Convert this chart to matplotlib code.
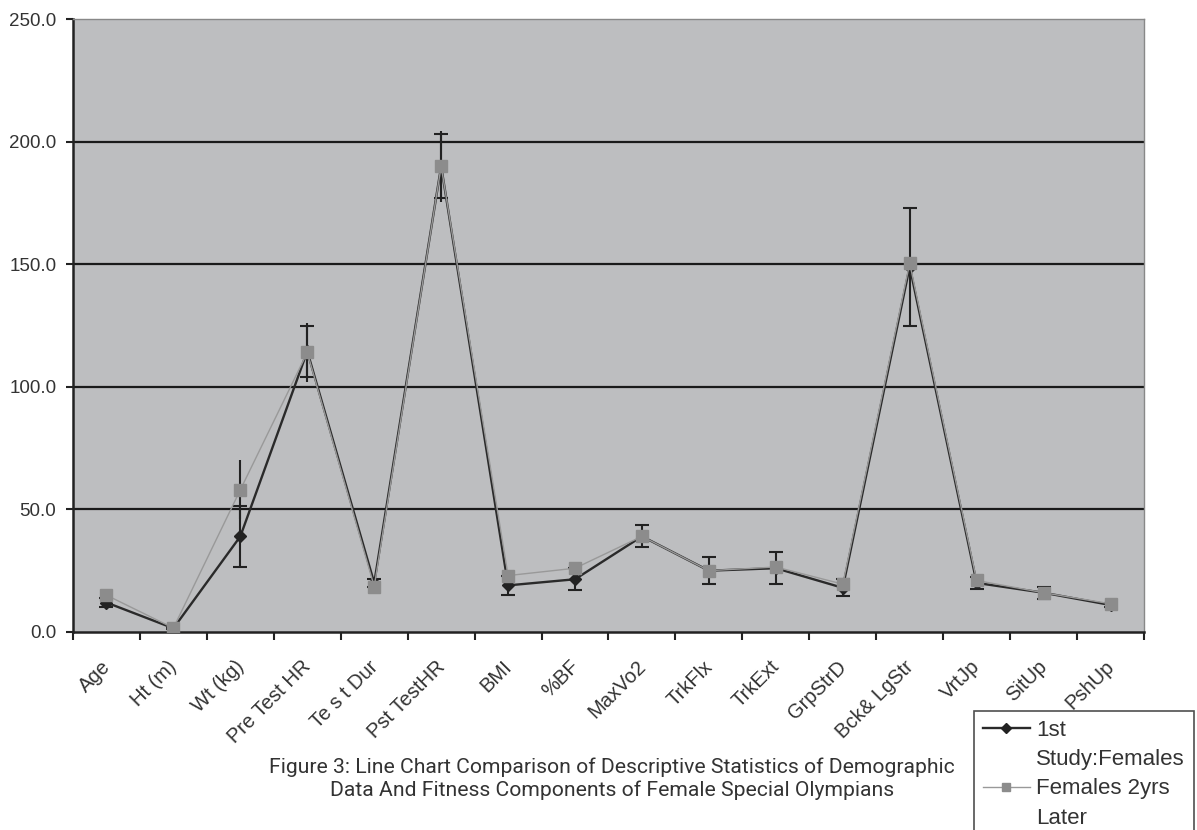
import matplotlib.pyplot as plt
import matplotlib.transforms as mtransforms
from matplotlib.lines import Line2D
import numpy as np

plt.rcParams['font.family'] = ['Liberation Sans', 'DejaVu Sans']

categories = ["Age", "Ht (m)", "Wt (kg)", "Pre Test HR", "Te s t Dur", "Pst TestHR",
              "BMI", "%BF", "MaxVo2", "TrkFlx", "TrkExt", "GrpStrD", "Bck& LgStr",
              "VrtJp", "SitUp", "PshUp"]

# 1st study: females (mean, sd)
first_mean = [12.0, 1.5, 39.0, 114.5, 20.0, 190.0, 19.0, 21.5, 39.0, 25.0, 26.0, 18.0,
              149.0, 20.0, 16.0, 11.0]
first_err = [2.0, 0.1, 12.4, 10.5, 1.5, 13.0, 4.0, 4.5, 4.5, 5.5, 6.5, 3.5,
             24.0, 2.5, 2.5, 1.0]

# females 2 years later
later_mean = [15.0, 1.6, 58.0, 114.0, 18.5, 190.0, 23.0, 26.0, 39.0, 25.0, 26.5, 19.5,
              150.5, 21.0, 16.0, 11.5]
later_err = [0.0, 0.0, 12.0, 12.0, 0.0, 14.5, 0.0, 0.0, 0.0, 0.0, 0.0, 0.0,
             0.0, 0.0, 0.0, 0.0]

yticks = [0, 50, 100, 150, 200, 250]

title_text = ("Figure 3: Line Chart Comparison of Descriptive Statistics of Demographic\n"
              "Data And Fitness Components of Female Special Olympians")

x = np.arange(len(categories))

fig = plt.figure(figsize=(11.97, 8.30), dpi=100)
ax = fig.add_axes([0.061, 0.2386, 0.8947, 0.7384])
ax.set_facecolor('#bdbec0')

for y in yticks[1:-1]:
    ax.axhline(y, color='#1a1a1a', linewidth=1.6, zorder=1)

ax.errorbar(x, later_mean, yerr=later_err, fmt='none', ecolor='#222222',
            elinewidth=1.5, capsize=0, zorder=2)
ax.errorbar(x, first_mean, yerr=first_err, fmt='none', ecolor='#222222',
            elinewidth=1.5, capsize=5, capthick=1.5, zorder=2)
l1, = ax.plot(x, first_mean, color='#2a2a2a', linewidth=1.7, marker='D',
              markersize=6.5, markerfacecolor='#222222', markeredgecolor='#222222',
              zorder=3)
l2, = ax.plot(x, later_mean, color='#999999', linewidth=1.0, marker='s',
              markersize=8, markerfacecolor='#8c8c8c', markeredgecolor='#8c8c8c',
              zorder=4)

ax.set_xlim(-0.5, len(categories) - 0.5)
ax.set_ylim(0, 250)
ax.set_yticks(yticks)
ax.set_yticklabels([f"{v:.1f}" for v in yticks], fontsize=13.5, color='#333333')
ax.tick_params(axis='y', length=5, width=1.5, pad=7, color='#222222')

ax.set_xticks(x)
ax.set_xticklabels(categories, rotation=45, ha='right', va='top',
                   rotation_mode='anchor', fontsize=14.5, color='#333333')
ax.tick_params(axis='x', which='major', length=0, pad=18)
shift = mtransforms.ScaledTranslation(-0.06, 0, fig.dpi_scale_trans)
for lab in ax.get_xticklabels():
    lab.set_transform(lab.get_transform() + shift)
ax.set_xticks(np.arange(-0.5, len(categories)), minor=True)
ax.tick_params(axis='x', which='minor', length=6, width=1.5, color='#222222')

for side in ['left', 'bottom']:
    ax.spines[side].set_linewidth(1.8)
    ax.spines[side].set_color('#222222')
for side in ['top', 'right']:
    ax.spines[side].set_linewidth(1.0)
    ax.spines[side].set_color('#888888')

fig.text(0.511, 0.036, title_text, ha='center', va='bottom', fontsize=15.2,
         family='Roboto', color='#333333', linespacing=1.25)

# legend labels wrap onto a second line with the symbol beside the first line
blank = Line2D([], [], linestyle='none', marker=None)
leg = fig.legend([l1, blank, l2, blank],
                 ["1st", "Study:Females", "Females 2yrs", "Later"],
                 loc='upper left', bbox_to_anchor=(974 / 1197, 1 - 711 / 830),
                 fontsize=16, frameon=True, fancybox=False, handlelength=2.1,
                 handletextpad=0.3, borderpad=0.4, labelspacing=0.37,
                 borderaxespad=0, markerscale=0.75)
leg.get_frame().set_edgecolor('#222222')
leg.get_frame().set_linewidth(1.2)
for t in leg.get_texts():
    t.set_color('#333333')

fig.savefig('out.png', dpi=100)
